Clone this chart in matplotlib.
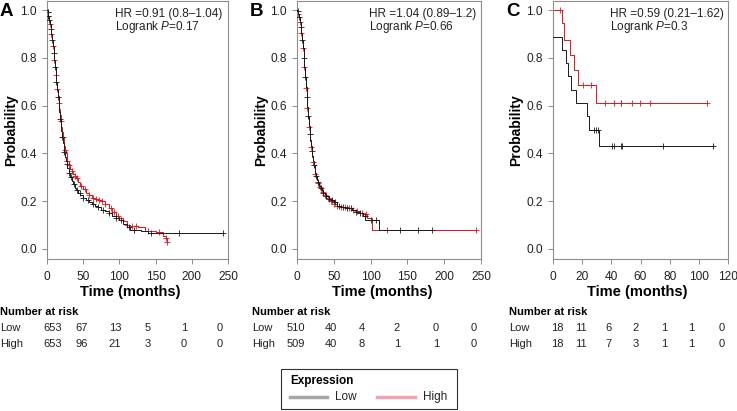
import numpy as np
import matplotlib
matplotlib.use('Agg')
import matplotlib.pyplot as plt
from matplotlib.lines import Line2D

plt.rcParams['font.family'] = ['Liberation Sans', 'DejaVu Sans']
plt.rcParams['mathtext.fontset'] = 'custom'
plt.rcParams['mathtext.rm'] = 'Liberation Sans'
plt.rcParams['mathtext.it'] = 'Liberation Sans:italic'

W, H = 737, 411

# ---- panel A ----
a_low_t = [0, 1, 2, 3, 4, 5, 6, 7, 8, 9, 10, 11, 12, 13, 14, 15, 16, 17, 18, 19, 20, 21, 22, 23, 24, 25, 26, 27, 28,
           30, 32, 34, 36, 38, 40, 43, 46, 50, 54, 58, 62, 66, 70, 75, 80, 85, 90, 95, 100, 105, 110, 115, 130, 140, 243]
a_low_s = [1.0, 0.99, 0.975, 0.96, 0.94, 0.92, 0.9, 0.875, 0.85, 0.82, 0.79, 0.76, 0.73, 0.7, 0.665, 0.635, 0.605,
           0.575, 0.545, 0.52, 0.495, 0.47, 0.445, 0.425, 0.405, 0.385, 0.37, 0.355, 0.34, 0.32, 0.3, 0.285, 0.27,
           0.255, 0.245, 0.235, 0.225, 0.215, 0.205, 0.195, 0.19, 0.18, 0.175, 0.165, 0.16, 0.15, 0.14, 0.13, 0.12,
           0.105, 0.09, 0.08, 0.075, 0.065, 0.065]
a_high_t = [0, 1, 2, 3, 4, 5, 6, 7, 8, 9, 10, 11, 12, 13, 14, 15, 16, 17, 18, 19, 20, 21, 22, 23, 24, 25, 26, 27, 28,
            30, 32, 34, 36, 38, 40, 43, 46, 50, 54, 58, 62, 66, 70, 75, 80, 85, 90, 95, 100, 105, 110, 115, 125, 135,
            150, 160, 164, 166]
a_high_s = [1.0, 0.99, 0.975, 0.96, 0.94, 0.92, 0.9, 0.875, 0.85, 0.82, 0.79, 0.76, 0.73, 0.7, 0.67, 0.64, 0.61,
            0.585, 0.56, 0.535, 0.51, 0.49, 0.47, 0.45, 0.43, 0.415, 0.4, 0.385, 0.37, 0.35, 0.335, 0.325, 0.315,
            0.305, 0.295, 0.28, 0.265, 0.25, 0.235, 0.225, 0.215, 0.21, 0.205, 0.2, 0.19, 0.17, 0.155, 0.14, 0.13,
            0.115, 0.1, 0.095, 0.09, 0.075, 0.07, 0.055, 0.045, 0.03]
a_low_cens = [1, 2, 3, 5, 7, 9, 11, 13, 15, 18, 21, 24, 27, 30, 33, 37, 41, 45, 50, 56, 63, 70, 78, 85, 95, 102,
              113, 120, 143, 183, 243]
a_high_cens = [1, 2, 4, 6, 8, 10, 12, 14, 16, 19, 22, 25, 28, 31, 34, 38, 42, 47, 52, 58, 64, 68, 72, 76, 80, 88,
               93, 98, 110, 118, 123, 140, 155, 164, 166]

# ---- panel B ----
b_low_t = [0, 1, 2, 3, 4, 5, 6, 7, 8, 9, 10, 11, 12, 13, 14, 15, 16, 17, 18, 19, 20, 21, 22, 23, 24, 25, 26, 27, 28,
           30, 32, 34, 36, 38, 40, 43, 46, 50, 55, 60, 65, 70, 75, 80, 85, 90, 93, 112, 183]
b_low_s = [1.0, 0.995, 0.985, 0.97, 0.95, 0.93, 0.905, 0.875, 0.84, 0.8, 0.76, 0.72, 0.68, 0.635, 0.595, 0.555,
           0.515, 0.48, 0.455, 0.43, 0.41, 0.39, 0.37, 0.35, 0.335, 0.32, 0.305, 0.29, 0.28, 0.265, 0.255, 0.245,
           0.235, 0.23, 0.22, 0.21, 0.205, 0.195, 0.18, 0.175, 0.17, 0.17, 0.165, 0.155, 0.15, 0.14, 0.12, 0.08, 0.08]
b_high_t = [0, 1, 2, 3, 4, 5, 6, 7, 8, 9, 10, 11, 12, 13, 14, 15, 16, 17, 18, 19, 20, 21, 22, 23, 24, 25, 26, 27, 28,
            30, 32, 34, 36, 38, 40, 43, 46, 50, 55, 60, 65, 70, 75, 80, 85, 90, 95, 102, 243]
b_high_s = [1.0, 0.995, 0.985, 0.97, 0.95, 0.93, 0.905, 0.875, 0.84, 0.8, 0.76, 0.72, 0.675, 0.63, 0.59, 0.55,
            0.51, 0.475, 0.45, 0.425, 0.405, 0.385, 0.365, 0.345, 0.33, 0.315, 0.3, 0.29, 0.275, 0.26, 0.25, 0.24,
            0.235, 0.225, 0.215, 0.21, 0.2, 0.19, 0.18, 0.175, 0.175, 0.17, 0.165, 0.16, 0.15, 0.145, 0.13, 0.08, 0.08]
b_low_cens = [1, 3, 5, 7, 9, 11, 13, 15, 17, 20, 23, 26, 29, 33, 36, 40, 44, 48, 52, 57, 62, 68, 74, 80, 86, 92,
              100, 108, 140, 165, 183]
b_high_cens = [2, 4, 6, 8, 10, 12, 14, 16, 19, 22, 25, 28, 31, 35, 38, 42, 46, 50, 55, 60, 65, 70, 76, 82, 88, 94,
               122, 243]

# ---- panel C ----
c_low_t = [0, 6.4, 9, 10.5, 12, 16, 23.3, 24.6, 31.4, 110]
c_low_s = [0.889, 0.833, 0.778, 0.722, 0.667, 0.611, 0.556, 0.5, 0.429, 0.429]
c_high_t = [0, 6.4, 7.5, 11.5, 14.3, 17, 29.3, 105.6]
c_high_s = [1.0, 0.944, 0.875, 0.8125, 0.75, 0.6875, 0.611, 0.611]
c_low_cens = [28, 29.7, 30.8, 40.4, 42, 46.4, 47, 75.4, 110]
c_high_cens = [5, 20.7, 26, 35.7, 41.7, 46.4, 46.8, 54.5, 59.8, 66.7, 105.6]

letters = ['A', 'B', 'C']
hr_text = ['HR =0.91 (0.8–1.04)', 'HR =1.04 (0.89–1.2)', 'HR =0.59 (0.21–1.62)']
p_text = ['0.17', '0.66', '0.3']
x_max = [250, 250, 120]
x_ticks = [[0, 50, 100, 150, 200, 250], [0, 50, 100, 150, 200, 250], [0, 20, 40, 60, 80, 100, 120]]
risk_low = [[653, 67, 13, 5, 1, 0], [510, 40, 4, 2, 0, 0], [18, 11, 6, 2, 1, 1, 0]]
risk_high = [[653, 96, 21, 3, 0, 0], [509, 40, 8, 1, 1, 0], [18, 11, 7, 3, 1, 1, 0]]

curves = [
    (a_low_t, a_low_s, a_low_cens, a_high_t, a_high_s, a_high_cens),
    (b_low_t, b_low_s, b_low_cens, b_high_t, b_high_s, b_high_cens),
    (c_low_t, c_low_s, c_low_cens, c_high_t, c_high_s, c_high_cens),
]

# layout in pixels
ax_left = [47, 297, 553]
ax_right = [228, 481, 728]
ax_top, ax_bottom = 1, 259
letter_x = [0, 250, 506]
hr_x = [115, 369, 610]
ylab_x = [11, 261, 516]
xlab_x = [130, 382, 637]
risk_x = [0, 252, 509]
col_x = [[53, 82, 115, 148, 184, 220], [296, 331, 362, 397, 436, 474], [557, 581, 608, 636, 664, 691, 722]]

low_col = '#1a1a1a'
high_col = '#e3141c'


def fx(x):
    return x / W


def fy(y):
    return 1 - y / H


def surv_at(t, s, c):
    t = np.asarray(t)
    s = np.asarray(s)
    idx = np.searchsorted(t, c, side='right') - 1
    return s[idx]


fig = plt.figure(figsize=(W / 100, H / 100), dpi=100)

for i in range(3):
    ax = fig.add_axes([fx(ax_left[i]), fy(ax_bottom), (ax_right[i] - ax_left[i]) / W, (ax_bottom - ax_top) / H])
    lt, ls, lc, ht, hs, hc = curves[i]
    lw = 0.7
    ax.step(lt, ls, where='post', color=low_col, lw=lw, zorder=3)
    ax.step(ht, hs, where='post', color=high_col, lw=lw, zorder=2)
    ax.plot(lc, surv_at(lt, ls, lc), ls='none', marker='+', ms=4, mew=0.6, color=low_col, zorder=3)
    ax.plot(hc, surv_at(ht, hs, hc), ls='none', marker='+', ms=4, mew=0.6, color=high_col, zorder=2)

    ax.set_xlim(0, x_max[i])
    ax.set_ylim(-0.042, 1.038)
    ax.set_xticks(x_ticks[i])
    ax.set_yticks([0, 0.2, 0.4, 0.6, 0.8, 1.0])
    ax.set_yticklabels(['0.0', '0.2', '0.4', '0.6', '0.8', '1.0'])
    for sp in ax.spines.values():
        sp.set_color('#8c8c8c')
        sp.set_linewidth(0.8)
    ax.tick_params(axis='both', direction='out', length=3.5, width=0.7, color='#8c8c8c',
                   labelsize=8.6, labelcolor='#222222')
    ax.tick_params(axis='y', pad=4)
    ax.tick_params(axis='x', pad=5)

    fig.text(fx(letter_x[i]), fy(12), letters[i], fontsize=13.5, fontweight='bold', ha='left', va='center')
    fig.text(fx(hr_x[i]), fy(14), hr_text[i], fontsize=8.5, ha='left', va='center', color='#222222')
    fig.text(fx(hr_x[i]), fy(27), 'Logrank $P$=' + p_text[i], fontsize=8.5, ha='left', va='center',
             color='#222222')
    fig.text(fx(ylab_x[i]), fy(130), 'Probability', fontsize=10, fontweight='bold', rotation=90,
             ha='center', va='center')
    fig.text(fx(xlab_x[i]), fy(292), 'Time (months)', fontsize=10.5, fontweight='bold', ha='center', va='center')

    fig.text(fx(risk_x[i]), fy(312), 'Number at risk', fontsize=8, fontweight='bold', ha='left', va='center')
    fig.text(fx(risk_x[i]), fy(328), 'Low', fontsize=8, ha='left', va='center', color='#222222')
    fig.text(fx(risk_x[i]), fy(344), 'High', fontsize=8, ha='left', va='center', color='#222222')
    for j in range(len(col_x[i])):
        fig.text(fx(col_x[i][j]), fy(328), str(risk_low[i][j]), fontsize=8, ha='center', va='center',
                 color='#222222')
        fig.text(fx(col_x[i][j]), fy(344), str(risk_high[i][j]), fontsize=8, ha='center', va='center',
                 color='#222222')

# legend
lax = fig.add_axes([0, 0, 1, 1], facecolor='none')
lax.set_xlim(0, W)
lax.set_ylim(H, 0)
lax.axis('off')
lax.add_patch(plt.Rectangle((281, 369), 176, 40, fill=False, ec='#333333', lw=0.8))
lax.text(290, 381, 'Expression', fontsize=8.5, fontweight='bold', ha='left', va='center')
lax.add_line(Line2D([290, 327], [397, 397], color='#a6a6a6', lw=2.5))
lax.text(335, 397, 'Low', fontsize=8.5, ha='left', va='center', color='#222222')
lax.add_line(Line2D([377, 415], [397, 397], color='#f2a3b3', lw=2.5))
lax.text(423, 397, 'High', fontsize=8.5, ha='left', va='center', color='#222222')

fig.savefig('out.png', dpi=100)
